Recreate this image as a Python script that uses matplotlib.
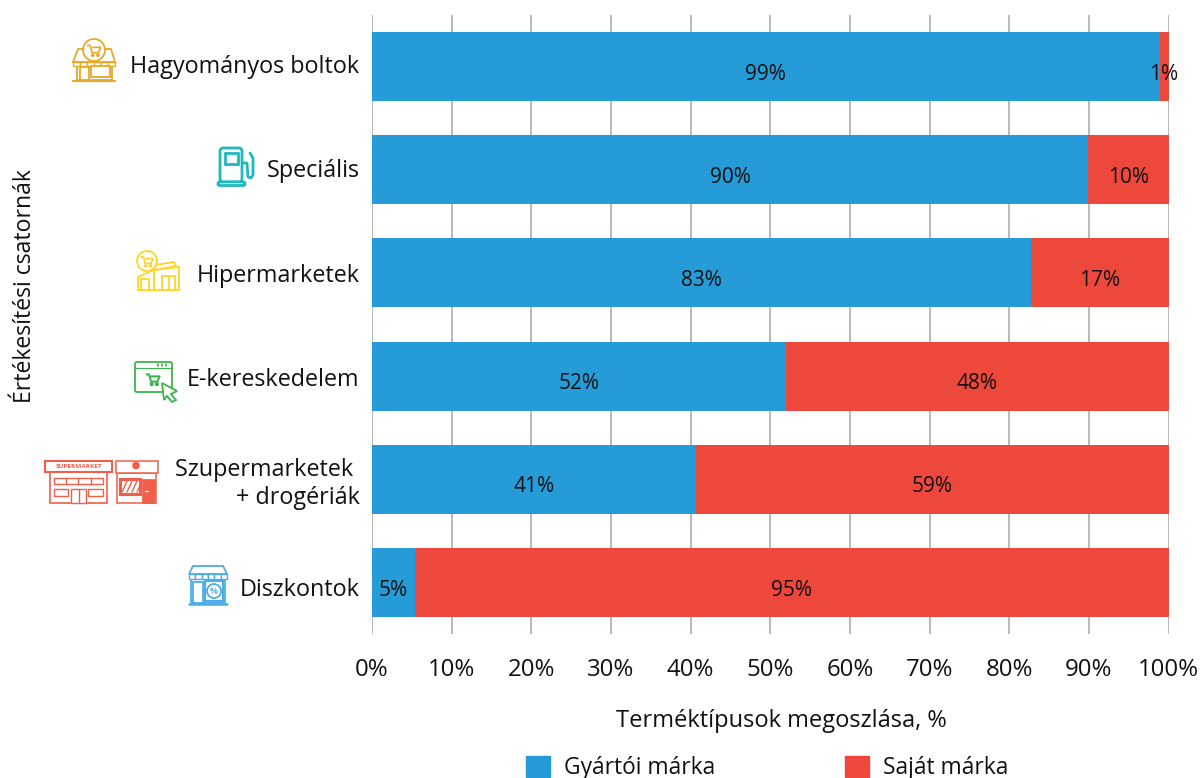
import matplotlib
matplotlib.use("Agg")
import matplotlib.pyplot as plt
from matplotlib.patches import Rectangle, Circle, Polygon, Patch, FancyBboxPatch
from matplotlib.ticker import FuncFormatter
from matplotlib.transforms import ScaledTranslation

plt.rcParams['font.family'] = ['Open Sans', 'DejaVu Sans']

channels = ["Hagyományos boltok", "Speciális", "Hipermarketek", "E-kereskedelem",
            "Szupermarketek \n+ drogériák", "Diszkontok"]
manufacturer = [98.9, 89.9, 82.7, 52.0, 40.7, 5.4]
private = [1.1, 10.1, 17.3, 48.0, 59.3, 94.6]
manufacturer_labels = ["99%", "90%", "83%", "52%", "41%", "5%"]
private_labels = ["1%", "10%", "17%", "48%", "59%", "95%"]
xticks = [0, 10, 20, 30, 40, 50, 60, 70, 80, 90, 100]
label_shift_px = [-3, -2, 0, 1, 0, 5]

BLUE = "#259CD8"
RED = "#EE473B"
W, H = 1204, 778
fig = plt.figure(figsize=(W / 100, H / 100), dpi=100)
x0, x1, ytop, ybot = 372, 1168.5, 15, 634
ax = fig.add_axes([x0 / W, 1 - ybot / H, (x1 - x0) / W, (ybot - ytop) / H])
ypos = list(range(len(channels)))
ax.barh(ypos, manufacturer, height=0.669, color=BLUE, zorder=3)
ax.barh(ypos, private, left=manufacturer, height=0.669, color=RED, zorder=3)
ax.set_xlim(0, 100)
ax.set_ylim(5.5, -0.5)
ax.set_xticks(xticks)
ax.xaxis.set_major_formatter(FuncFormatter(lambda v, p: f"{v:.0f}%"))
ax.set_yticks(ypos)
ax.set_yticklabels(channels, fontsize=16.8, color="#111111", linespacing=1.2, ha="right", multialignment="right")
ax.tick_params(axis="y", length=0, pad=9)
ax.tick_params(axis="x", length=0, pad=17, labelsize=17.3, labelcolor="#111111")
ax.grid(axis="x", color="#B4B4B4", lw=1.3, zorder=0)
for s in ax.spines.values():
    s.set_visible(False)
for i, lbl in enumerate(ax.get_yticklabels()):
    lbl.set_transform(lbl.get_transform() + ScaledTranslation(0, -label_shift_px[i] / 100, fig.dpi_scale_trans))
for i in ypos:
    lx = manufacturer[i] / 2
    ax.text(lx, i + 0.075, manufacturer_labels[i], ha="center", va="center", fontsize=15, color="#111111", zorder=5)
    rx = manufacturer[i] + private[i] / 2
    ax.text(rx, i + 0.075, private_labels[i], ha="center", va="center", fontsize=15, color="#111111", zorder=5)
ax.set_xlabel("Terméktípusok megoszlása, %", fontsize=17, color="#111111", labelpad=19.5,
              x=(781 - x0) / (x1 - x0))
fig.text(25 / W, 1 - 286 / H, "Értékesítési csatornák", rotation=90, ha="center", va="center",
         fontsize=16.6, color="#111111")

handles = [Patch(color=BLUE), Patch(color=RED)]
fig.legend(handles, ["Gyártói márka", "Saját márka"], ncol=2, frameon=False, fontsize=16.4,
           loc="center left", bbox_to_anchor=(526 / W, 1 - 768 / H), handlelength=1.05, handleheight=1.05,
           handletextpad=0.61, columnspacing=5.7, labelcolor="#111111", borderpad=0, borderaxespad=0)

# decorative channel icons, in figure pixels
ov = fig.add_axes([0, 0, 1, 1], zorder=10)
ov.set_xlim(0, W); ov.set_ylim(H, 0); ov.axis("off")
def rect(x, y, w, h, c, fill=False, lw=1.3):
    ov.add_patch(Rectangle((x, y), w, h, fc=c if fill else "white", ec=c, lw=lw))
def circ(x, y, r, c, lw=1.3, fill="white"):
    ov.add_patch(Circle((x, y), r, fc=fill, ec=c, lw=lw))
def line(xs, ys, c, lw=1.3):
    ov.plot(xs, ys, color=c, lw=lw, solid_capstyle="round")
def poly(pts, c, lw=1.3, fill="white"):
    ov.add_patch(Polygon(pts, closed=True, fc=fill, ec=c, lw=lw))
def cart(x, y, s, c, lw=1.2):
    line([x - s, x - .6 * s, x - .3 * s, x + .7 * s, x + s, x - .2 * s],
         [y - .7 * s, y - .7 * s, y + .4 * s, y + .4 * s, y - .4 * s, y - .4 * s], c, lw)
    circ(x - .2 * s, y + .8 * s, .15 * s, c, lw); circ(x + .6 * s, y + .8 * s, .15 * s, c, lw)

# traditional shop
c = "#E8A925"
rect(77, 60, 35, 20, c)
poly([(78, 49), (111, 49), (115, 62), (73, 62)], c)
for i in range(6):
    x = 73 + i * 7
    ov.add_patch(Rectangle((x, 62), 7, 4, fc="white", ec=c, lw=1))
circ(94, 50, 11, c); cart(94, 50, 6.5, c)
rect(80, 67, 9, 13, c); rect(91, 66, 19, 11, c)
line([73, 115], [80.5, 80.5], c, 1.5)

# fuel pump
c = "#1FB9BA"
ov.add_patch(FancyBboxPatch((220, 148), 22, 34, boxstyle="round,pad=0,rounding_size=3", fc="white", ec=c, lw=2))
rect(225, 153, 13, 11, c, lw=2)
ov.add_patch(FancyBboxPatch((218, 182), 27, 3.5, boxstyle="round,pad=0,rounding_size=1.5", fc="white", ec=c, lw=2))
line([243, 247, 248, 251, 253, 253, 250], [163, 163, 177, 178, 175, 158, 153], c, 2)

# hypermarket
c = "#FFD426"
poly([(154, 270), (179, 267), (179, 290), (154, 290)], c)
poly([(138, 277), (154, 270), (154, 290), (138, 290)], c)
poly([(155, 265), (174, 262), (176, 266), (155, 270)], c)
rect(162, 276, 13, 14, c); line([168.5, 168.5], [276, 290], c, 1.2)
rect(141, 279, 8, 11, c)
circ(147, 261, 10, c); cart(147, 261, 6, c)

# e-commerce
c = "#3CB54A"
ov.add_patch(FancyBboxPatch((135, 362), 37, 30, boxstyle="round,pad=0,rounding_size=2", fc="white", ec=c, lw=1.3))
line([135, 172], [368, 368], c, 0.8)
for x in (158, 162, 166):
    line([x, x], [364, 366], c, 1.2)
cart(153, 379, 6.5, c, 1.5)
poly([(162, 383), (177, 391), (171, 394), (176, 400), (172, 402), (167, 396), (164, 400)], c)

# supermarket and drugstore
c = "#F15E49"
rect(50, 472, 57, 31, c, lw=1.2)
rect(45, 461, 67, 11, c, lw=1.5)
ov.text(78.5, 466.7, "SUPERMARKET", fontsize=4.6, fontweight="bold", color=c, ha="center", va="center")
rect(54, 478, 49, 5.5, c, lw=1)
for x in (66, 78, 91):
    line([x, x], [478, 483.5], c, 1)
rect(54, 489, 14, 7, c, lw=1); rect(88, 489, 15, 7, c, lw=1)
rect(71, 489, 15, 14, c, lw=1); line([78.5, 78.5], [489, 503], c, 1)
rect(117, 473, 39, 30, c, lw=1.1)
poly([(116, 461), (158, 461), (158, 473), (116, 473)], c, lw=1.1)
rect(142, 479, 13, 24, c, fill=True, lw=0.5)
line([145, 148], [491, 491], "white", 1)
rect(120, 479, 20, 15, c, lw=2.2)
for d in (0, 5, 10, 15):
    line([122 + d, 127 + d], [492, 481], c, 1)
circ(136, 465.5, 3, c, lw=1.2, fill=c)

# discount store
c = "#4CADE6"
rect(191, 578, 34, 25, c)
poly([(193, 566), (223, 566), (227, 574), (189, 574)], c)
for i in range(6):
    ov.add_patch(Rectangle((189 + i * 6.33, 574), 6.33, 5, fc="white", ec=c, lw=1))
rect(193, 582, 10, 21, c); rect(205, 581, 18, 20, c, lw=1.6)
circ(214, 591, 7, c)
ov.text(214, 591, "%", fontsize=6.5, fontweight="bold", color=c, ha="center", va="center")
line([189, 227], [603.5, 603.5], c, 1.8)

fig.savefig("out.png", dpi=100)
